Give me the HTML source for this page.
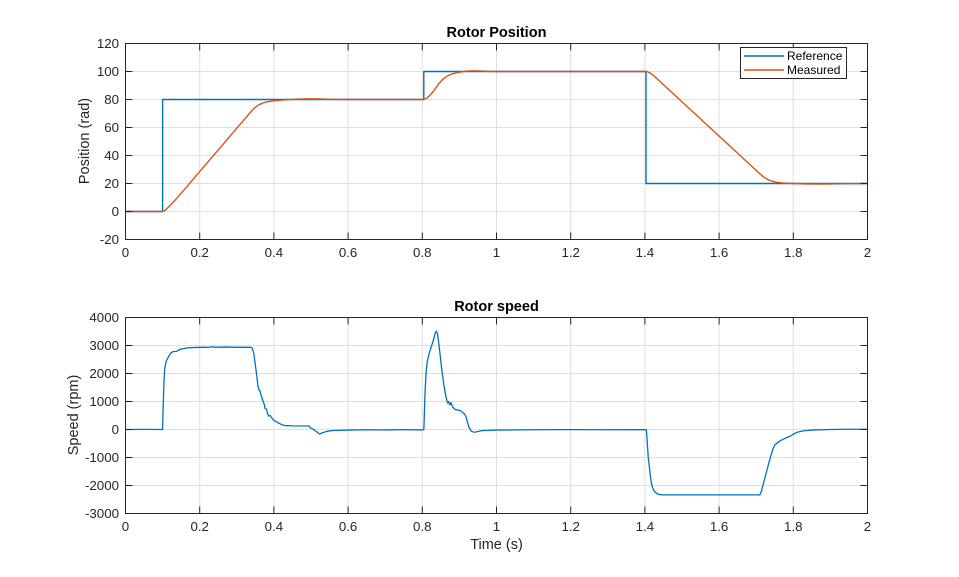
<!DOCTYPE html>
<html><head><meta charset="utf-8"><style>
html,body{margin:0;padding:0;background:#fff;}
svg{display:block;font-family:"Liberation Sans",Arial,sans-serif;}
</style></head><body>
<svg width="959" height="577" viewBox="0 0 959 577" xmlns="http://www.w3.org/2000/svg">
<rect x="0" y="0" width="959" height="577" fill="#fff"/>
<!-- ===== TOP AXES ===== -->
<rect x="125.5" y="43.5" width="742" height="196" fill="#fff"/>
<g stroke="#dfdfdf" stroke-width="1" fill="none">
<path d="M199.7 43.5V239.5M273.9 43.5V239.5M348.1 43.5V239.5M422.3 43.5V239.5M496.5 43.5V239.5M570.7 43.5V239.5M644.9 43.5V239.5M719.1 43.5V239.5M793.3 43.5V239.5"/>
<path d="M125.5 71.5H867.5M125.5 99.5H867.5M125.5 127.5H867.5M125.5 155.5H867.5M125.5 183.5H867.5M125.5 211.5H867.5"/>
</g>
<g transform="translate(125.5,211.5) scale(371,-1.4)" fill="none" stroke-linejoin="round">
<polyline vector-effect="non-scaling-stroke" stroke="#0072BD" stroke-width="1.4" points="0,0 0.1,0 0.1,80 0.804,80 0.804,100 1.403,100 1.403,20 2,20"/>
<polyline vector-effect="non-scaling-stroke" stroke="#D95319" stroke-width="1.4" points="0,0 0.1,0 0.105,0.5 0.11,1.7 0.12,4.2 0.13,7.0 0.15,13.0 0.2,28.5 0.25,44.0 0.3,59.5 0.34,71.8 0.35,74.5 0.36,76.3 0.37,77.5 0.38,78.3 0.4,79.1 0.43,79.8 0.46,80.2 0.5,80.5 0.52,80.4 0.56,80.1 0.6,80 0.804,80 0.812,81 0.82,82.8 0.83,85.8 0.837,88.5 0.845,91.5 0.855,94.3 0.866,96.5 0.88,98.3 0.9,99.5 0.92,100.3 0.94,100.5 0.97,100.2 1.0,100 1.405,100 1.415,98.8 1.43,95.5 1.44,93 1.70,29.4 1.711,26.7 1.72,24.7 1.73,23 1.74,21.9 1.75,21.1 1.77,20.4 1.8,20.0 1.83,19.7 1.88,19.6 1.93,19.8 2.0,20"/>
</g>
<g stroke="#262626" stroke-width="1" fill="none">
<rect x="125.5" y="43.5" width="742" height="196"/>
<path d="M199.7 239.5v-7M273.9 239.5v-7M348.1 239.5v-7M422.3 239.5v-7M496.5 239.5v-7M570.7 239.5v-7M644.9 239.5v-7M719.1 239.5v-7M793.3 239.5v-7"/>
<path d="M199.7 43.5v7M273.9 43.5v7M348.1 43.5v7M422.3 43.5v7M496.5 43.5v7M570.7 43.5v7M644.9 43.5v7M719.1 43.5v7M793.3 43.5v7"/>
<path d="M125.5 71.5h7M125.5 99.5h7M125.5 127.5h7M125.5 155.5h7M125.5 183.5h7M125.5 211.5h7"/>
<path d="M867.5 71.5h-7M867.5 99.5h-7M867.5 127.5h-7M867.5 155.5h-7M867.5 183.5h-7M867.5 211.5h-7"/>
</g>
<g fill="#262626" font-size="13.3" text-anchor="end">
<text x="119" y="48">120</text>
<text x="119" y="76">100</text>
<text x="119" y="104">80</text>
<text x="119" y="132">60</text>
<text x="119" y="160">40</text>
<text x="119" y="188">20</text>
<text x="119" y="216">0</text>
<text x="119" y="244">-20</text>
</g>
<g fill="#262626" font-size="13.3" text-anchor="middle">
<text x="125.5" y="257">0</text>
<text x="199.7" y="257">0.2</text>
<text x="273.9" y="257">0.4</text>
<text x="348.1" y="257">0.6</text>
<text x="422.3" y="257">0.8</text>
<text x="496.5" y="257">1</text>
<text x="570.7" y="257">1.2</text>
<text x="644.9" y="257">1.4</text>
<text x="719.1" y="257">1.6</text>
<text x="793.3" y="257">1.8</text>
<text x="867.5" y="257">2</text>
</g>
<text x="496.5" y="37" font-size="14.5" font-weight="bold" fill="#000" text-anchor="middle">Rotor Position</text>
<text transform="translate(89,141) rotate(-90)" font-size="14.5" fill="#262626" text-anchor="middle">Position (rad)</text>
<!-- legend -->
<rect x="740.5" y="47.5" width="106" height="31" fill="#fff" stroke="#262626" stroke-width="1"/>
<line x1="744" y1="56" x2="784" y2="56" stroke="#0072BD" stroke-width="1.4"/>
<line x1="744" y1="70" x2="784" y2="70" stroke="#D95319" stroke-width="1.4"/>
<text x="787" y="60" font-size="12" fill="#000">Reference</text>
<text x="787" y="74" font-size="12" fill="#000">Measured</text>

<!-- ===== BOTTOM AXES ===== -->
<rect x="125.5" y="317.5" width="742" height="196" fill="#fff"/>
<g stroke="#dfdfdf" stroke-width="1" fill="none">
<path d="M199.7 317.5V513.5M273.9 317.5V513.5M348.1 317.5V513.5M422.3 317.5V513.5M496.5 317.5V513.5M570.7 317.5V513.5M644.9 317.5V513.5M719.1 317.5V513.5M793.3 317.5V513.5"/>
<path d="M125.5 345.5H867.5M125.5 373.5H867.5M125.5 401.5H867.5M125.5 429.5H867.5M125.5 457.5H867.5M125.5 485.5H867.5"/>
</g>
<g transform="translate(125.5,429.5) scale(371,-0.028)" fill="none" stroke-linejoin="round">
<polyline vector-effect="non-scaling-stroke" stroke="#0072BD" stroke-width="1.3" points="0,0 0.05,5 0.1,0 0.1005,300 0.102,1000 0.104,1800 0.106,2200 0.11,2450 0.116,2600 0.122,2730 0.128,2780 0.138,2790 0.142,2830 0.15,2870 0.156,2890 0.17,2920 0.19,2930 0.23,2940 0.235,2960 0.24,2935 0.27,2945 0.3,2935 0.338,2935 0.342,2900 0.346,2700 0.35,2300 0.354,1900 0.357,1550 0.36,1400 0.362,1400 0.366,1200 0.37,1050 0.374,900 0.376,750 0.38,730 0.383,550 0.386,480 0.39,500 0.395,400 0.4,330 0.41,250 0.42,180 0.43,140 0.45,130 0.495,125 0.498,60 0.505,20 0.515,-80 0.523,-160 0.53,-120 0.545,-60 0.56,-35 0.6,-20 0.65,-10 0.7,-15 0.75,-5 0.8,-15 0.804,-10 0.805,300 0.807,1200 0.81,2000 0.813,2400 0.818,2700 0.824,2950 0.83,3200 0.835,3450 0.838,3510 0.841,3420 0.846,2900 0.852,2200 0.858,1600 0.864,1150 0.868,950 0.871,1000 0.874,880 0.877,960 0.882,800 0.888,720 0.896,690 0.902,680 0.908,620 0.914,550 0.918,450 0.922,250 0.926,80 0.932,-60 0.94,-100 0.95,-70 0.96,-40 1.0,-20 1.1,-10 1.2,-5 1.3,-10 1.4,-5 1.404,-10 1.406,-400 1.409,-1000 1.4125,-1400 1.416,-1800 1.42,-2050 1.425,-2200 1.43,-2260 1.437,-2320 1.45,-2335 1.71,-2335 1.714,-2200 1.72,-1900 1.729,-1450 1.737,-1050 1.745,-700 1.75,-550 1.757,-480 1.765,-400 1.78,-300 1.79,-250 1.8,-170 1.81,-100 1.827,-50 1.85,-20 1.9,0 1.95,10 2,10"/>
</g>
<g stroke="#262626" stroke-width="1" fill="none">
<rect x="125.5" y="317.5" width="742" height="196"/>
<path d="M199.7 513.5v-7M273.9 513.5v-7M348.1 513.5v-7M422.3 513.5v-7M496.5 513.5v-7M570.7 513.5v-7M644.9 513.5v-7M719.1 513.5v-7M793.3 513.5v-7"/>
<path d="M199.7 317.5v7M273.9 317.5v7M348.1 317.5v7M422.3 317.5v7M496.5 317.5v7M570.7 317.5v7M644.9 317.5v7M719.1 317.5v7M793.3 317.5v7"/>
<path d="M125.5 345.5h7M125.5 373.5h7M125.5 401.5h7M125.5 429.5h7M125.5 457.5h7M125.5 485.5h7"/>
<path d="M867.5 345.5h-7M867.5 373.5h-7M867.5 401.5h-7M867.5 429.5h-7M867.5 457.5h-7M867.5 485.5h-7"/>
</g>
<g fill="#262626" font-size="13.3" text-anchor="end">
<text x="119" y="322">4000</text>
<text x="119" y="350">3000</text>
<text x="119" y="378">2000</text>
<text x="119" y="406">1000</text>
<text x="119" y="434">0</text>
<text x="119" y="462">-1000</text>
<text x="119" y="490">-2000</text>
<text x="119" y="518">-3000</text>
</g>
<g fill="#262626" font-size="13.3" text-anchor="middle">
<text x="125.5" y="531">0</text>
<text x="199.7" y="531">0.2</text>
<text x="273.9" y="531">0.4</text>
<text x="348.1" y="531">0.6</text>
<text x="422.3" y="531">0.8</text>
<text x="496.5" y="531">1</text>
<text x="570.7" y="531">1.2</text>
<text x="644.9" y="531">1.4</text>
<text x="719.1" y="531">1.6</text>
<text x="793.3" y="531">1.8</text>
<text x="867.5" y="531">2</text>
</g>
<text x="496.5" y="311" font-size="14.5" font-weight="bold" fill="#000" text-anchor="middle">Rotor speed</text>
<text transform="translate(78,415) rotate(-90)" font-size="14.5" fill="#262626" text-anchor="middle">Speed (rpm)</text>
<text x="496.5" y="549" font-size="14.5" fill="#262626" text-anchor="middle">Time (s)</text>
</svg>
</body></html>
